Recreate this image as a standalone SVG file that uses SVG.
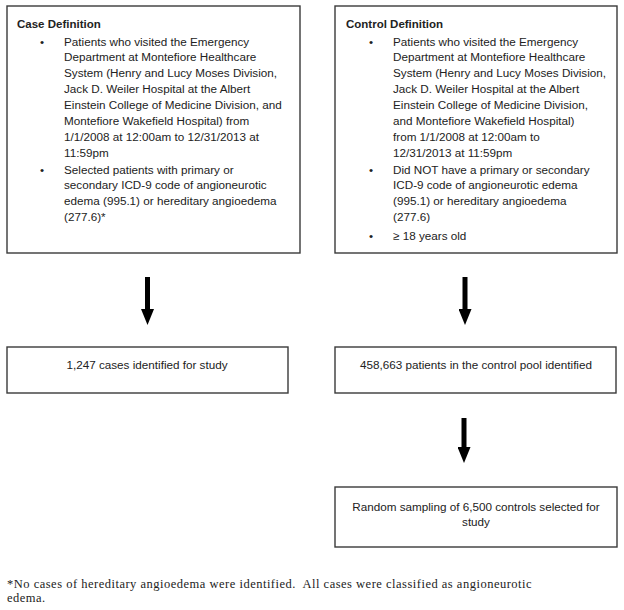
<svg xmlns="http://www.w3.org/2000/svg" width="624" height="610" viewBox="0 0 624 610">
<defs>
<style>
.box{fill:#fff;stroke:#3a3a3a;stroke-width:1.4}
.t{font-family:"Liberation Sans",Arial,sans-serif;font-size:11.7px;fill:#222}
.b{font-weight:bold;font-size:11.5px}
.c{text-anchor:middle}
.fn{font-family:"Liberation Serif","Times New Roman",serif;font-size:12.5px;letter-spacing:0.5px;fill:#222;white-space:pre}
.arr{stroke:#000;stroke-width:5;fill:none}
</style>
<marker id="head" markerUnits="userSpaceOnUse" markerWidth="16" markerHeight="13" viewBox="0 0 16 13" refX="3" refY="6.5" orient="auto">
<path d="M0,0 L16,6.5 L0,13 z" fill="#000"/>
</marker>
</defs>
<rect width="624" height="610" fill="#fff"/>

<g id="case-definition">
<rect class="box" x="7" y="6" width="293" height="247"/>
<text class="t b" x="17" y="28">Case Definition</text>
<text class="t" x="40" y="45.5">•</text>
<text class="t" x="64" y="45.5">Patients who visited the Emergency</text>
<text class="t" x="64" y="61.4">Department at Montefiore Healthcare</text>
<text class="t" x="64" y="77.4">System (Henry and Lucy Moses Division,</text>
<text class="t" x="64" y="93.3">Jack D. Weiler Hospital at the Albert</text>
<text class="t" x="64" y="109.3">Einstein College of Medicine Division, and</text>
<text class="t" x="64" y="125.2">Montefiore Wakefield Hospital) from</text>
<text class="t" x="64" y="141.2">1/1/2008 at 12:00am to 12/31/2013 at</text>
<text class="t" x="64" y="157.1">11:59pm</text>
<text class="t" x="40" y="173.5">•</text>
<text class="t" x="64" y="173.5">Selected patients with primary or</text>
<text class="t" x="64" y="189.4">secondary ICD-9 code of angioneurotic</text>
<text class="t" x="64" y="205.3">edema (995.1) or hereditary angioedema</text>
<text class="t" x="64" y="221.2">(277.6)*</text>
</g>

<g id="control-definition">
<rect class="box" x="335" y="6" width="282" height="247"/>
<text class="t b" x="346" y="28">Control Definition</text>
<text class="t" x="369" y="45.5">•</text>
<text class="t" x="393" y="45.5">Patients who visited the Emergency</text>
<text class="t" x="393" y="61.4">Department at Montefiore Healthcare</text>
<text class="t" x="393" y="77.4">System (Henry and Lucy Moses Division,</text>
<text class="t" x="393" y="93.3">Jack D. Weiler Hospital at the Albert</text>
<text class="t" x="393" y="109.3">Einstein College of Medicine Division,</text>
<text class="t" x="393" y="125.2">and Montefiore Wakefield Hospital)</text>
<text class="t" x="393" y="141.2">from 1/1/2008 at 12:00am to</text>
<text class="t" x="393" y="157.1">12/31/2013 at 11:59pm</text>
<text class="t" x="369" y="173.5">•</text>
<text class="t" x="393" y="173.5">Did NOT have a primary or secondary</text>
<text class="t" x="393" y="189.4">ICD-9 code of angioneurotic edema</text>
<text class="t" x="393" y="205.3">(995.1) or hereditary angioedema</text>
<text class="t" x="393" y="221.2">(277.6)</text>
<text class="t" x="369" y="239.5">•</text>
<text class="t" x="393" y="239.5">≥ 18 years old</text>
</g>

<g id="cases-identified">
<rect class="box" x="7" y="347" width="281" height="46"/>
<text class="t c" x="147" y="369">1,247 cases identified for study</text>
</g>

<g id="control-pool">
<rect class="box" x="335" y="347" width="281" height="46"/>
<text class="t c" x="476" y="369">458,663 patients in the control pool identified</text>
</g>

<g id="random-sampling">
<rect class="box" x="335" y="487" width="282" height="60"/>
<text class="t c" x="476" y="511">Random sampling of 6,500 controls selected for</text>
<text class="t c" x="476" y="526">study</text>
</g>

<g id="connectors">
<line class="arr" x1="147.5" y1="277" x2="147.5" y2="312" marker-end="url(#head)"/>
<line class="arr" x1="465" y1="277" x2="465" y2="312" marker-end="url(#head)"/>
<line class="arr" x1="464" y1="418" x2="464" y2="450" marker-end="url(#head)"/>
</g>

<g id="footnote">
<text class="fn" x="7" y="588" xml:space="preserve">*No cases of hereditary angioedema were identified.  All cases were classified as angioneurotic</text>
<text class="fn" x="7" y="602">edema.</text>
</g>
</svg>
